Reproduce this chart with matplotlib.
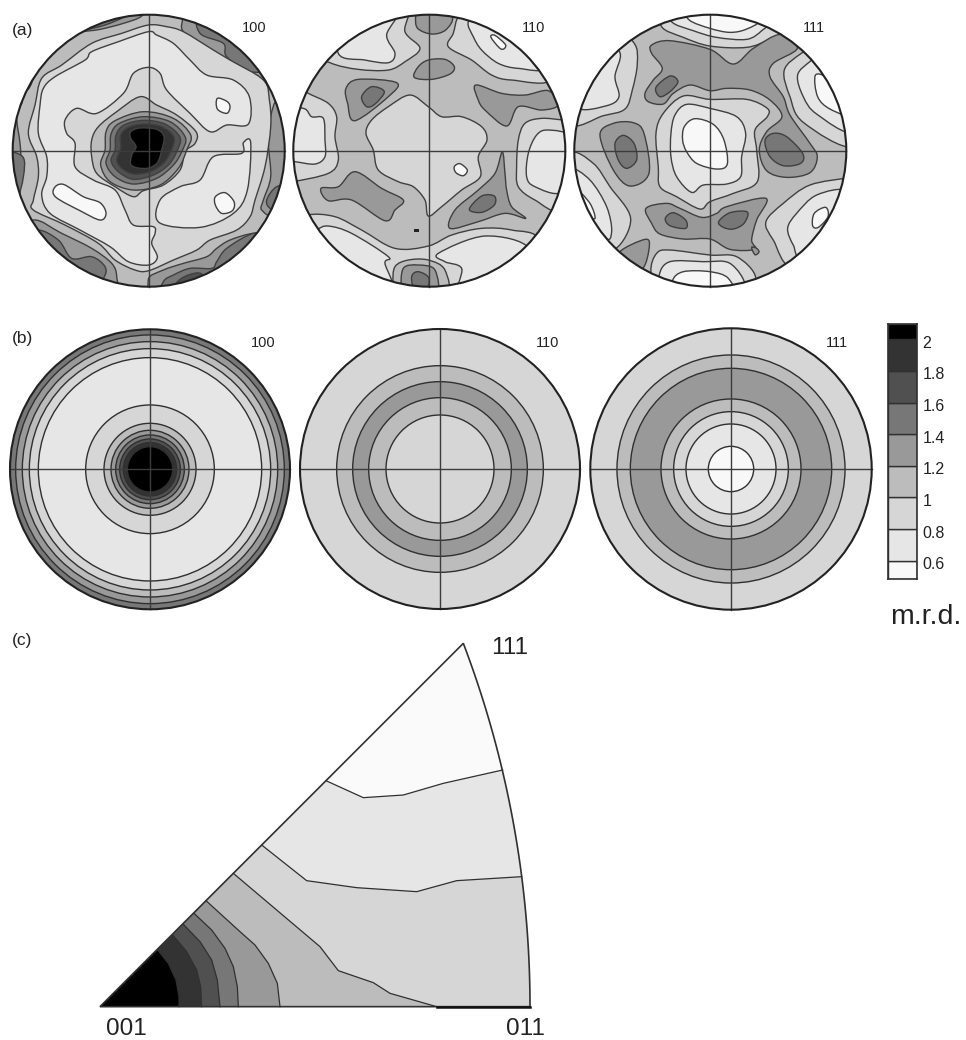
import numpy as np
import matplotlib
matplotlib.use('Agg')
import matplotlib.pyplot as plt
from matplotlib.path import Path
from matplotlib.patches import PathPatch, Circle, Polygon
from matplotlib.transforms import ScaledTranslation

plt.rcParams['font.family'] = ['Liberation Sans', 'DejaVu Sans']

FIG_W, FIG_H = 966, 1040

# grey for each m.r.d. band, lowest first
levels = [0.6, 0.8, 1.0, 1.2, 1.4, 1.6, 1.8, 2.0]
level_labels = ['0.6', '0.8', '1', '1.2', '1.4', '1.6', '1.8', '2']
bar_low, bar_high = 0.484, 2.097
WHITE, G08, G10, G12, G14, G16, G18, G20, BLACK = (
    '#f8f8f8', '#e6e6e6', '#d6d6d6', '#bcbcbc', '#999999',
    '#777777', '#505050', '#333333', '#000000')
band_colors = [WHITE, G08, G10, G12, G14, G16, G18, G20, BLACK]

# (b) recalculated pole figures: contour radii, relative to the disc radius
b100_radii = [403/420, 383/420, 362/420, 335/420, 193/420, 138/420, 117/420, 103/420, 91/420, 80/420, 68/420]
b100_cols = [G14, G12, G10, G08, G10, G12, G14, G16, G18, G20, BLACK]
b110_radii = [310/420, 262/420, 214/420, 162/420]
b110_cols = [G12, G14, G12, G10]
b111_radii = [342/422, 302/422, 210/422, 172/422, 135/422, 68/422]
b111_cols = [G12, G14, G12, G10, G08, WHITE]

# (a) measured pole figures: contours traced off the picture
# 100 figure, centre (446, 452), radius 408
a100_ur14 = [(548,50),(550,95),(620,140),(680,190),(740,230),(790,240),(880,300),(900,150),(700,-20),(550,-20)]
a100_ur16 = [(598,40),(600,100),(670,130),(680,170),(750,215),(830,190),(700,20)]
a100_r14 = [(835,300),(812,350),(805,430),(812,530),(790,600),(785,630),(830,640),(900,500),(900,340)]
a100_r16 = [(830,560),(800,600),(810,625),(840,630),(880,560)]
a100_l14 = [(65,300),(50,350),(60,430),(62,480),(55,590),(0,580),(0,320)]
a100_l16 = [(68,470),(70,530),(50,590),(10,540),(10,460)]
a100_ll14 = [(100,660),(185,700),(275,745),(335,790),(350,830),(340,880),(200,860),(40,720)]
a100_ll16 = [(110,690),(175,720),(215,775),(275,770),(315,800),(310,835),(260,890),(50,730)]
a100_lr14 = [(445,838),(490,810),(550,790),(620,770),(650,745),(690,720),(760,700),(810,710),(700,880),(480,900)]
a100_lr16 = [(490,845),(520,825),(570,805),(635,805),(650,785),(680,745),(760,700),(800,720),(600,900),(480,900)]
a100_lr18 = [(530,848),(565,825),(605,822),(620,870),(530,880)]
a100_ul14 = [(80,270),(115,200),(165,140),(230,100),(300,88),(370,70),(425,48),(440,10),(180,30),(30,220)]
a100_ul16 = [(150,150),(230,100),(315,75),(375,50),(410,30),(380,0),(250,20),(110,130)]
a100_d10 = [(445,75),(365,100),(275,130),(185,195),(125,235),(105,315),(85,400),(110,470),
            (115,530),(100,600),(100,630),(195,675),(295,730),(345,780),(405,810),(446,812),
            (520,780),(590,750),(630,720),(710,690),(750,650),(765,600),(795,500),
            (812,380),(808,300),(790,240),(690,180),(640,150),(550,95),(500,80)]
a100_e08_main = [(445,95),(355,125),(275,155),(255,180),(165,230),(130,265),(120,315),(115,400),
                 (140,470),(140,530),(125,585),(150,640),(240,690),(330,740),(385,785),(446,795),
                 (472,772),(455,730),(465,700),(460,680),(400,675),(375,630),(345,570),(280,540),
                 (225,500),(225,430),(200,400),(195,360),(230,325),(290,340),(370,280),(400,220),
                 (446,202),(480,220),(500,270),(570,340),(630,395),(680,375),(745,372),(748,290),
                 (700,240),(620,225),(570,180),(520,130),(470,105)]
a100_e08_right = [(480,600),(478,668),(600,682),(700,640),(742,570),(752,428),(730,428),(725,460),
                  (640,470),(600,540),(540,560)]
a100_c12 = [(420,290),(470,315),(530,345),(588,395),(585,430),(555,455),(540,510),(490,555),
            (430,572),(400,590),(345,560),(290,520),(275,470),(275,420),(295,380),(350,335)]
a100_c14 = [(318,395),(345,362),(430,335),(520,355),(572,405),(560,450),(535,505),(480,555),
            (400,570),(330,545),(302,495),(315,450)]
a100_c16 = [(333,402),(358,370),(430,350),(510,365),(556,412),(545,455),(520,495),(470,535),
            (400,552),(345,530),(318,490),(330,450)]
a100_c18 = [(348,405),(372,375),(430,361),(495,372),(540,412),(530,455),(505,495),(460,525),
            (400,538),(355,515),(333,482),(345,450)]
a100_c20 = [(362,405),(385,382),(430,372),(485,380),(522,412),(512,455),(490,490),(450,515),
            (400,522),(365,505),(350,480),(362,445)]
a100_c22 = [(392,395),(420,384),(470,388),(492,410),(485,450),(472,488),(440,505),(395,497),
            (395,465),(408,440),(392,415)]
a100_w1 = [(652,295),(682,305),(690,322),(680,340),(652,327)]
a100_w2 = [(646,590),(675,578),(702,605),(697,632),(665,640),(646,615)]
a100_w3 = [(162,565),(190,553),(250,590),(300,608),(318,640),(300,660),(240,632),(168,592)]

a100_layers = [(G14, a100_ur14), (G16, a100_ur16), (G14, a100_r14), (G16, a100_r16),
               (G14, a100_l14), (G16, a100_l16), (G14, a100_ll14), (G16, a100_ll16),
               (G14, a100_lr14), (G16, a100_lr16), (G18, a100_lr18), (G14, a100_ul14), (G16, a100_ul16),
               (G10, a100_d10), (G08, a100_e08_main), (G08, a100_e08_right),
               (G12, a100_c12), (G14, a100_c14), (G16, a100_c16), (G18, a100_c18), (G20, a100_c20),
               (BLACK, a100_c22), (WHITE, a100_w1), (WHITE, a100_w2), (WHITE, a100_w3)]

# 110 figure, centre (433, 452), radius 408
a110_ul10 = [(135,188),(220,208),(310,210),(360,185),(405,145),(360,95),(365,20),(230,0),(60,140)]
a110_ul08 = [(160,160),(240,180),(310,188),(330,160),(305,105),(335,30),(180,40)]
a110_ur10 = [(525,45),(505,100),(490,140),(560,180),(620,225),(680,240),(800,235),(740,70),(600,10)]
a110_ur08 = [(550,65),(565,110),(590,150),(640,190),(700,205),(780,200),(700,70),(590,20)]
a110_ur06 = [(618,112),(630,106),(662,135),(648,147)]
a110_l10 = [(70,280),(130,310),(155,350),(150,410),(160,480),(130,520),(20,545),(-20,540),(-20,300),(50,265)]
a110_l08 = [(55,325),(80,350),(115,355),(120,420),(120,470),(90,492),(30,485),(-20,480),(-20,330)]
a110_r10 = [(840,360),(770,355),(720,370),(700,420),(695,500),(700,560),(750,600),(830,630),(900,500),(900,360)]
a110_r08 = [(860,410),(790,390),(755,405),(730,460),(725,530),(750,560),(830,578),(900,500)]
a110_b10 = [(70,645),(150,650),(230,690),(330,745),(430,738),(500,705),(590,685),(680,690),(760,722),
            (700,880),(450,920),(180,880),(40,680)]
a110_bl08 = [(95,690),(130,678),(200,700),(310,770),(300,790),(322,880),(180,860),(60,720)]
a110_br08 = [(460,760),(600,708),(730,745),(660,850),(525,880),(530,805),(480,785)]
a110_b12 = [(325,850),(330,800),(370,780),(430,780),(480,810),(482,890),(340,890)]
a110_b14 = [(350,870),(355,805),(400,795),(450,810),(455,890),(370,890)]
a110_b16 = [(380,830),(400,815),(432,835),(420,880),(390,875)]
a110_t14 = [(392,50),(398,85),(440,102),(482,90),(502,50),(450,15),(400,20)]
a110_m14 = [(388,232),(400,200),(430,180),(480,178),(508,200),(495,222),(440,238)]
a110_c10 = [(375,285),(430,320),(470,350),(530,350),(590,380),(606,420),(580,470),(586,530),(530,570),
            (470,620),(430,648),(420,600),(385,560),(340,545),(280,510),(265,450),(243,400),(260,360),(310,320)]
a110_c06 = [(508,500),(525,491),(547,510),(535,527),(513,518)]
a110_ul14 = [(183,265),(220,238),(335,248),(310,290),(210,362),(188,310)]
a110_ul16 = [(230,290),(260,260),(298,275),(270,312),(245,320)]
a110_ur14 = [(572,255),(650,280),(720,285),(790,272),(820,315),(770,330),(700,320),(665,378),(600,330),(580,300)]
a110_ll14 = [(108,565),(160,560),(210,515),(290,565),(355,600),(330,630),(300,662),(200,600),(130,602)]
a110_lr14 = [(652,456),(660,520),(665,570),(680,620),(722,655),(660,640),(580,665),(495,685),(510,630),(580,570),(630,520)]
a110_lr16 = [(553,628),(590,588),(628,588),(628,615),(590,637)]
a110_dash = [(386,688),(402,688),(402,696),(386,696)]

a110_layers = [(G10, a110_ul10), (G08, a110_ul08), (G10, a110_ur10), (G08, a110_ur08), (WHITE, a110_ur06),
               (G10, a110_l10), (G08, a110_l08), (G10, a110_r10), (G08, a110_r08),
               (G10, a110_b10), (G08, a110_bl08), (G08, a110_br08),
               (G12, a110_b12), (G14, a110_b14), (G16, a110_b16), (G14, a110_t14), (G14, a110_m14),
               (G10, a110_c10), (WHITE, a110_c06), (G14, a110_ul14), (G16, a110_ul16), (G14, a110_ur14),
               (G14, a110_ll14), (G14, a110_lr14), (G16, a110_lr16)]

# 111 figure, centre (421, 452), radius 408
a111_t10 = [(275,80),(340,112),(420,138),(530,142),(600,118),(650,95),(600,20),(420,0),(280,20)]
a111_t08 = [(305,65),(370,92),(440,112),(530,118),(575,92),(590,65),(500,15),(310,20)]
a111_t06 = [(358,60),(420,85),(480,97),(530,87),(560,60),(440,20),(350,25)]
a111_m14 = [(245,135),(300,122),(420,148),(490,192),(550,145),(632,103),(682,145),(610,190),(600,230),
            (640,290),(660,345),(720,430),(742,470),(720,518),(650,532),(590,512),(568,450),(590,395),
            (636,350),(600,300),(540,270),(470,265),(420,272),(360,255),(310,280),(280,312),(235,305),
            (225,280),(250,240),(277,205),(245,160)]
a111_m16 = [(258,262),(300,228),(324,245),(300,275),(270,290)]
a111_r16 = [(585,422),(610,400),(650,410),(698,460),(692,490),(640,497),(600,470)]
a111_l14 = [(90,405),(130,370),(190,368),(222,400),(237,520),(180,558),(130,510)]
a111_l16 = [(135,430),(160,406),(192,430),(200,480),(170,505),(145,480)]
a111_c10 = [(258,400),(280,340),(340,288),(420,298),(530,298),(592,325),(592,350),(555,390),(560,450),
            (562,545),(490,580),(420,605),(390,627),(320,590),(270,560),(265,500)]
a111_c08 = [(303,400),(315,345),(350,313),(420,325),(500,350),(527,400),(515,470),(512,530),(470,552),
            (400,555),(365,577),(320,530),(303,470)]
a111_c06 = [(343,380),(375,356),(430,373),(462,420),(472,492),(440,507),(380,490),(350,455),(338,420)]
a111_b14 = [(228,625),(290,610),(330,625),(395,652),(440,640),(470,620),(588,595),(560,660),(545,720),
            (555,748),(480,748),(420,717),(340,717),(270,702),(245,670)]
a111_b16a = [(286,655),(310,638),(347,660),(347,685),(300,677)]
a111_b16b = [(446,665),(480,638),(532,636),(522,670),(490,687),(460,682)]
a111_s14 = [(150,755),(225,718),(238,740),(218,805),(170,790)]
a111_loop = [(545,742),(560,745),(567,756),(555,764)]
a111_ul10 = [(190,126),(202,190),(187,270),(165,327),(100,347),(0,370),(-10,200),(100,60)]
a111_ul08 = [(150,158),(135,230),(147,290),(110,317),(20,322),(0,220),(90,120)]
a111_ur10 = [(697,158),(643,210),(660,290),(700,367),(850,440),(900,300),(780,110)]
a111_ur08 = [(722,183),(683,225),(700,290),(740,342),(850,395),(870,250),(770,150)]
a111_ur06 = [(736,226),(770,233),(792,280),(850,350),(780,327),(743,290)]
a111_lr10 = [(840,533),(720,555),(640,610),(588,665),(610,720),(672,800),(830,680),(880,530)]
a111_lr08 = [(830,573),(740,585),(680,640),(653,685),(670,735),(700,770),(830,660)]
a111_lr06 = [(733,640),(767,622),(774,650),(745,682),(728,677)]
a111_ll10 = [(0,462),(70,490),(120,560),(182,655),(138,745),(70,725),(-20,600)]
a111_ll08 = [(0,505),(60,540),(110,620),(125,695),(100,710),(-10,570)]
a111_ll06 = [(20,570),(60,610),(75,655),(45,640)]
a111_bt10 = [(243,815),(260,760),(300,750),(420,765),(500,770),(557,832),(520,900),(270,900)]
a111_bt08 = [(268,825),(300,785),(400,785),(480,790),(525,860),(460,900),(280,880)]
a111_bt06 = [(308,842),(340,815),(420,815),(475,835),(485,890),(320,890)]

a111_layers = [(G10, a111_t10), (G08, a111_t08), (WHITE, a111_t06), (G14, a111_m14), (G16, a111_m16),
               (G16, a111_r16), (G14, a111_l14), (G16, a111_l16), (G10, a111_c10), (G08, a111_c08),
               (WHITE, a111_c06), (G14, a111_b14), (G16, a111_b16a), (G16, a111_b16b), (G14, a111_s14),
               (G14, a111_loop), (G10, a111_ul10), (G08, a111_ul08), (G10, a111_ur10), (G08, a111_ur08),
               (WHITE, a111_ur06), (G10, a111_lr10), (G08, a111_lr08), (WHITE, a111_lr06),
               (G10, a111_ll10), (G08, a111_ll08), (WHITE, a111_ll06),
               (G10, a111_bt10), (G08, a111_bt08), (WHITE, a111_bt06)]

# (c) inverse pole figure: 001 at (60, 1130), 011 at (1350, 1130), 111 at (1150, 40)
ipf_boundary_06 = [(740,453),(850,503),(970,495),(1090,460),(1268,420)]
ipf_boundary_08 = [(545,645),(680,752),(830,773),(1010,785),(1130,752),(1325,740)]
ipf_boundary_10 = [(460,730),(720,950),(775,1022),(880,1058),(930,1090),(1070,1130)]
ipf_boundary_12 = [(378,812),(480,905),(525,945),(565,1000),(592,1060),(600,1130)]
ipf_boundary_14 = [(342,850),(395,900),(435,955),(460,1010),(472,1070),(475,1130)]
ipf_boundary_16 = [(310,883),(360,935),(395,990),(412,1050),(420,1130)]
ipf_boundary_18 = [(278,915),(320,965),(350,1020),(362,1070),(365,1130)]
ipf_boundary_20 = [(233,960),(265,1000),(288,1050),(297,1100),(297,1130)]


def px_axes(x0, y0, w, h):
    # axes from reference pixel box, y counted from the top
    ax = fig.add_axes([x0/FIG_W, 1 - (y0 + h)/FIG_H, w/FIG_W, h/FIG_H])
    ax.axis('off')
    return ax


def smooth_path(pts):
    # closed Catmull-Rom curve through the traced points
    pts = np.array(pts, dtype=float)
    prev, nxt, nxt2 = np.roll(pts, 1, axis=0), np.roll(pts, -1, axis=0), np.roll(pts, -2, axis=0)
    c1 = pts + (nxt - prev) / 6
    c2 = nxt - (nxt2 - pts) / 6
    verts = [pts[0]]
    codes = [Path.MOVETO]
    for a, b, p in zip(c1, c2, nxt):
        verts += [a, b, p]
        codes += [Path.CURVE4] * 3
    return Path(verts, codes)


def disc_axes(cx, cy, r):
    ax = px_axes(cx - r - 2, cy - r - 2, 2*r + 4, 2*r + 4)
    lim = (r + 2) / r
    ax.set_xlim(-lim, lim)
    ax.set_ylim(lim, -lim)
    return ax


def draw_frame(ax):
    ax.plot([-1, 1], [0, 0], color='#3c3c3c', lw=1.0, zorder=20)
    ax.plot([0, 0], [-1, 1], color='#3c3c3c', lw=1.0, zorder=20)
    ax.add_patch(Circle((0, 0), 1, fc='none', ec='#222222', lw=1.5, zorder=21))


def measured_figure(cx, cy, r, centre, radius, layers, label, lx, ly):
    ax = disc_axes(cx, cy, r)
    clip = Circle((0, 0), 1, transform=ax.transData)
    ax.add_patch(Circle((0, 0), 1, fc=G12, ec='none'))
    for colour, pts in layers:
        unit = (np.array(pts, dtype=float) - centre) / radius
        patch = PathPatch(smooth_path(unit), fc=colour, ec='#404040', lw=1.0)
        ax.add_patch(patch)
        patch.set_clip_path(clip)
    draw_frame(ax)
    fig.text(lx/FIG_W, 1 - ly/FIG_H, label, fontsize=10.5, ha='center', va='center', color='#222222')
    return ax


def ring_figure(cx, cy, r, outer, radii, cols, label, lx, ly):
    ax = disc_axes(cx, cy, r)
    ax.add_patch(Circle((0, 0), 1, fc=outer, ec='none'))
    for rad, colour in zip(radii, cols):
        ax.add_patch(Circle((0, 0), rad, fc=colour, ec='#303030', lw=1.0))
    draw_frame(ax)
    fig.text(lx/FIG_W, 1 - ly/FIG_H, label, fontsize=10.5, ha='center', va='center', color='#222222')


fig = plt.figure(figsize=(FIG_W/100, FIG_H/100), dpi=100)

measured_figure(148.7, 150.7, 136, (446, 452), 408, a100_layers, '100', 254, 28)
a110 = measured_figure(429.3, 150.7, 136, (433, 452), 408, a110_layers, '110', 534, 28)
measured_figure(710.3, 150.7, 136, (421, 452), 408, a111_layers, '111', 814, 28)
# small dark dash below the centre of the 110 figure
a110.add_patch(Polygon((np.array(a110_dash, dtype=float) - (433, 452)) / 408, fc='#222222', ec='none', zorder=15))

ring_figure(150, 469.3, 140, G16, b100_radii, b100_cols, '100', 263, 343)
ring_figure(440, 469, 140, G10, b110_radii, b110_cols, '110', 548, 343)
ring_figure(731, 469, 140.7, G10, b111_radii, b111_cols, '111', 837, 343)

for txt, y in [('(a)', 30), ('(b)', 339), ('(c)', 641)]:
    fig.text(12/FIG_W, 1 - y/FIG_H, txt, fontsize=12.5, ha='left', va='center', color='#222222')

# colour bar
cax = px_axes(888, 324, 29, 255)
edges = [bar_low] + levels + [bar_high]
for lo, hi, colour in zip(edges[:-1], edges[1:], band_colors):
    cax.barh(lo, 1, height=hi - lo, align='edge', color=colour, edgecolor='#303030', lw=1.0)
cax.set_xlim(0, 1)
cax.set_ylim(bar_low, bar_high)
cax.axis('on')
cax.set_xticks([])
cax.yaxis.tick_right()
cax.set_yticks(levels)
cax.set_yticklabels(level_labels, fontsize=11.5, color='#222222')
cax.tick_params(axis='y', length=0, pad=4)
# labels sit a little below their contour lines
shift = ScaledTranslation(0, -2.5/100, fig.dpi_scale_trans)
for lab in cax.get_yticklabels():
    lab.set_transform(lab.get_transform() + shift)
for sp in cax.spines.values():
    sp.set_color('#303030')
    sp.set_linewidth(1.2)
fig.text(890/FIG_W, 1 - 617/FIG_H, 'm.r.d.', fontsize=20.5, ha='left', va='center', color='#222222')

# (c) inverse pole figure, axes in traced units
tax = px_axes(80, 630, 480, 410)
tax.set_xlim(0, 1440)
tax.set_ylim(1230, 0)
O = (60, 1130)
arc_c, arc_r = np.array([-1720.0, 1130.0]), 3070.0
ang = np.linspace(np.arctan2(40 - 1130, 1150 + 1720), 0, 80)
arc = np.c_[arc_c[0] + arc_r*np.cos(ang), arc_c[1] + arc_r*np.sin(ang)]
sector = np.vstack([[O], arc])
clip = Polygon(sector, transform=tax.transData)
tax.add_patch(Polygon(sector, fc='#fafafa', ec='none'))

ipf_fills = [(G08, ipf_boundary_06), (G10, ipf_boundary_08), (G12, ipf_boundary_10), (G14, ipf_boundary_12),
             (G16, ipf_boundary_14), (G18, ipf_boundary_16), (G20, ipf_boundary_18), (BLACK, ipf_boundary_20)]
for colour, bound in ipf_fills:
    bound = list(bound)
    if bound[-1][1] != 1130:
        # contour ends on the arc, close along the right side
        bound = bound + [(1400, bound[-1][1]), (1400, 1130)]
    poly = Polygon([O] + bound, fc=colour, ec='none')
    tax.add_patch(poly)
    poly.set_clip_path(clip)
for _, bound in ipf_fills:
    xs, ys = zip(*bound)
    tax.plot(xs, ys, color='#303030', lw=0.9)
tax.add_patch(Polygon(sector, fc='none', ec='#303030', lw=1.2))
tax.plot([1070, 1350], [1130, 1130], color='#111111', lw=1.8)
tax.text(78, 1197, '001', fontsize=17.5, ha='left', va='center', color='#222222')
tax.text(1278, 1197, '011', fontsize=17.5, ha='left', va='center', color='#222222')
tax.text(1232, 55, '111', fontsize=17.5, ha='left', va='center', color='#222222')

fig.savefig('out.png', dpi=100)
